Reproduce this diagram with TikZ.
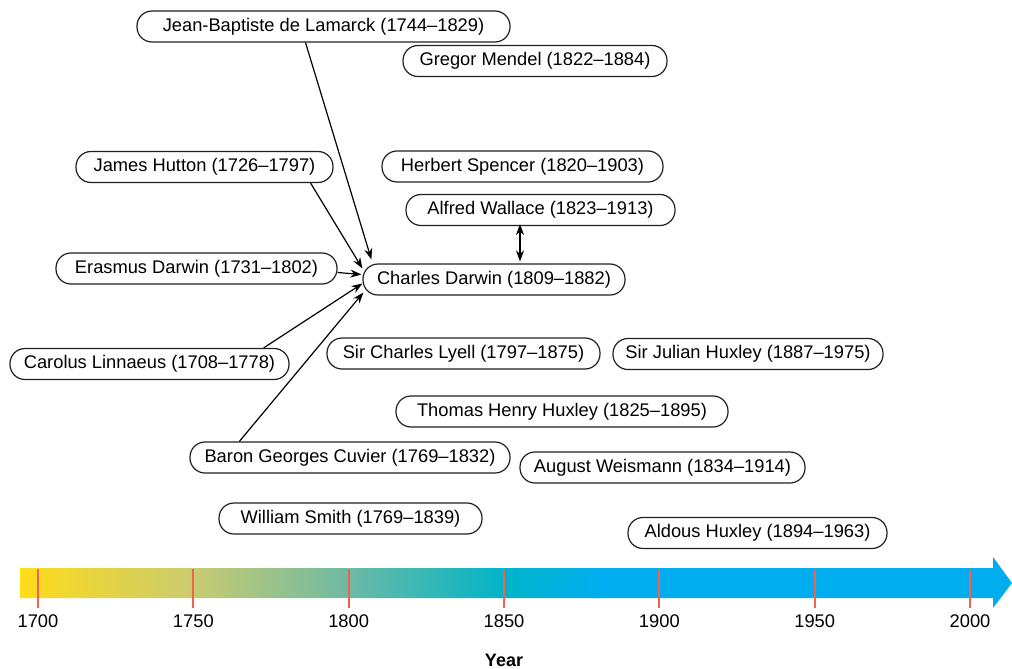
\documentclass[tikz,border=0pt]{standalone}
\usepackage{fontspec}
\setmainfont{Liberation Sans}
\usetikzlibrary{arrows.meta, positioning}
\definecolor{tlyellow}{RGB}{255,220,26}
\definecolor{tlolive}{RGB}{200,203,112}
\definecolor{tlgreen}{RGB}{109,186,164}
\definecolor{tlteal}{RGB}{0,180,200}
\definecolor{tlblue}{RGB}{0,174,239}
\definecolor{tickred}{RGB}{242,97,82}
\definecolor{boxline}{RGB}{35,31,32}

\begin{document}
\begin{tikzpicture}[x=1pt, y=-1pt,
    person/.style={draw=boxline, line width=1.2pt, rounded corners=15pt,
        minimum height=31pt, inner sep=0pt, fill=white,
        font=\fontsize{18.3}{22}\selectfont},
    infl/.style={line width=1.2pt, -{Stealth[length=11pt,width=8pt]}}]
    \useasboundingbox (0,0) rectangle (1012,669);

    % people
    \node[person, minimum width=373pt] (lamarck) at (323.5,26.5) {Jean-Baptiste de Lamarck (1744--1829)};
    \node[person, minimum width=264pt] (mendel) at (535,61) {Gregor Mendel (1822--1884)};
    \node[person, minimum width=257pt] (hutton) at (204.5,167) {James Hutton (1726--1797)};
    \node[person, minimum width=281pt] (spencer) at (522.5,166.5) {Herbert Spencer (1820--1903)};
    \node[person, minimum width=269pt] (wallace) at (540.5,210) {Alfred Wallace (1823--1913)};
    \node[person, minimum width=281pt] (erasmus) at (196.5,268.5) {Erasmus Darwin (1731--1802)};
    \node[person, minimum width=262pt] (darwin) at (494,279.5) {Charles Darwin (1809--1882)};
    \node[person, minimum width=279pt] (linnaeus) at (149.5,364) {Carolus Linnaeus (1708--1778)};
    \node[person, minimum width=273pt] (lyell) at (463.5,353.5) {Sir Charles Lyell (1797--1875)};
    \node[person, minimum width=270pt] (julian) at (748,354) {Sir Julian Huxley (1887--1975)};
    \node[person, minimum width=332pt] (thhuxley) at (562,411.5) {Thomas Henry Huxley (1825--1895)};
    \node[person, minimum width=320pt] (cuvier) at (350,457.5) {Baron Georges Cuvier (1769--1832)};
    \node[person, minimum width=285pt] (weismann) at (662.5,467.5) {August Weismann (1834--1914)};
    \node[person, minimum width=263pt] (smith) at (350.5,518.5) {William Smith (1769--1839)};
    \node[person, minimum width=259pt] (aldous) at (757.5,533) {Aldous Huxley (1894--1963)};

    % influences on Darwin
    \draw[infl] ([xshift=-18pt]lamarck.south) -- ([xshift=9pt,yshift=20pt]darwin.west);
    \draw[infl] ([xshift=-23pt]hutton.south east) -- ([xshift=0pt,yshift=11pt]darwin.west);
    \draw[infl] ([yshift=-4pt]erasmus.east) -- ([xshift=-1pt,yshift=5pt]darwin.west);
    \draw[infl] ([xshift=-26pt]linnaeus.north east) -- ([xshift=0pt,yshift=-4pt]darwin.west);
    \draw[infl] ([xshift=50pt]cuvier.north west) -- ([xshift=1pt,yshift=-13pt]darwin.west);
    \draw[infl, {Stealth[length=11pt,width=8pt]}-{Stealth[length=11pt,width=8pt]}]
        ([xshift=-20.5pt,yshift=2pt]wallace.south) -- ([xshift=26pt,yshift=2pt]darwin.north);

    % timeline
    \begin{scope}
        \clip (20,568) -- (993,568) -- (993,557) -- (1012,583)
            -- (993,608) -- (993,598) -- (20,598) -- cycle;
        \fill[tlblue] (590,550) rectangle (1012,615);
        \shade[left color=tlyellow, right color=tlolive] (20,550) rectangle (194,615);
        \shade[left color=tlolive, right color=tlgreen] (193.5,550) rectangle (349,615);
        \shade[left color=tlgreen, right color=tlteal] (348.5,550) rectangle (505,615);
        \shade[left color=tlteal, right color=tlblue] (504.5,550) rectangle (600,615);
    \end{scope}
    \foreach \yr in {1700,1750,...,2000} {
        \pgfmathsetmacro{\xx}{38+(\yr-1700)*3.1067}
        \draw[tickred, line width=2pt] (\xx,569) -- (\xx,608);
        \node[font=\fontsize{18.3}{22}\selectfont] (yr\yr) at (\xx,621) {\yr};
    }
    \node[font=\fontsize{18}{22}\selectfont\bfseries] (year) at (504,660) {Year};
\end{tikzpicture}
\end{document}
